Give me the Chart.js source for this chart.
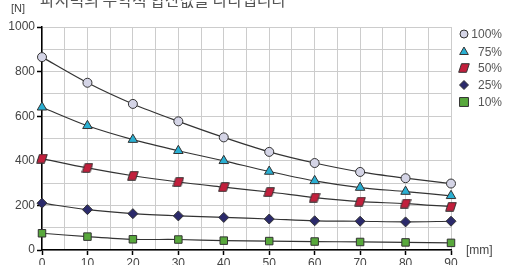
<!DOCTYPE html>
<html>
<head>
<meta charset="utf-8">
<script src="https://cdn.jsdelivr.net/npm/chart.js@4.4.1/dist/chart.umd.min.js"></script>
<style>
  html, body { margin: 0; padding: 0; background: #fff; }
  #wrap { position: relative; width: 506px; height: 265px; overflow: hidden; }
</style>
</head>
<body>
<div id="wrap"><canvas id="gripChart" width="506" height="265"></canvas></div>
<script>
// stroke positions [mm]
const strokeMm = [0, 10, 20, 30, 40, 50, 60, 70, 80, 90];
// grip force [N] per pressure level
const force100 = [865, 750, 655, 577, 505, 440, 390, 350, 322, 298];
const force75 = [640, 557, 495, 445, 400, 352, 310, 280, 262, 243];
const force50 = [410, 368, 333, 305, 282, 260, 235, 217, 208, 194];
const force25 = [210, 181, 163, 153, 146, 139, 131, 129, 126, 129];
const force10 = [75, 60, 48, 47, 42, 40, 38, 36, 34, 32];
const seriesLabels = ['100%', '75%', '50%', '25%', '10%'];
const titleText = '파지력의 수학적 합산값을 나타냅니다';

// parallelogram marker for the 50% series
function makeParallelogram(fill) {
    const c = document.createElement('canvas');
    c.width = 12;
    c.height = 10;
    const g = c.getContext('2d');
    g.beginPath();
    g.moveTo(3.5, 0.7);
    g.lineTo(11.3, 0.7);
    g.lineTo(8.5, 9.3);
    g.lineTo(0.7, 9.3);
    g.closePath();
    g.fillStyle = fill;
    g.fill();
    g.strokeStyle = '#333';
    g.lineWidth = 1;
    g.stroke();
    return c;
}

const styles = [
    { pointStyle: 'circle', color: '#d4d4e6', radius: 4.5, legendRadius: 4 },
    { pointStyle: 'triangle', color: '#2aafd2', radius: 5.5, legendRadius: 5 },
    { pointStyle: makeParallelogram('#c21f3c'), color: '#c21f3c', radius: 5, legendRadius: 5 },
    { pointStyle: 'rectRot', color: '#2b2a6b', radius: 5, legendRadius: 4.5 },
    { pointStyle: 'rect', color: '#58a83c', radius: 5.3, legendRadius: 6.3 }
];

const allSeries = [force100, force75, force50, force25, force10];

const datasets = allSeries.map((values, i) => ({
    label: seriesLabels[i],
    data: values.map((v, j) => ({ x: strokeMm[j], y: v })),
    borderColor: '#333',
    borderWidth: 1.2,
    tension: 0.3,
    pointStyle: styles[i].pointStyle,
    pointRadius: styles[i].radius,
    pointHoverRadius: styles[i].radius,
    pointBackgroundColor: styles[i].color,
    pointBorderColor: '#333',
    pointBorderWidth: 1,
    clip: false
}));

// extra texts and the legend on the right side
const extrasPlugin = {
    id: 'extras',
    afterDraw(chart) {
        const ctx = chart.ctx;
        ctx.save();
        ctx.fillStyle = '#555';
        ctx.font = '16px "Noto Sans CJK KR", "Noto Sans", sans-serif';
        ctx.textBaseline = 'alphabetic';
        ctx.textAlign = 'left';
        ctx.fillText(titleText, 40, 6);

        ctx.font = '11px "Liberation Sans", Arial, sans-serif';
        ctx.fillStyle = '#444';
        ctx.textBaseline = 'middle';
        ctx.fillText('[N]', 11, 9);
        ctx.font = '12px "Liberation Sans", Arial, sans-serif';
        ctx.fillText('[mm]', 466, 251);

        // legend
        const rows = [34, 52, 68, 85, 102];
        ctx.font = '12px "Liberation Sans", Arial, sans-serif';
        seriesLabels.forEach((label, i) => {
            const s = styles[i];
            ctx.fillStyle = s.color;
            ctx.strokeStyle = '#333';
            ctx.lineWidth = 1;
            Chart.helpers.drawPoint(ctx, {
                pointStyle: s.pointStyle,
                radius: s.legendRadius,
                rotation: 0,
                borderWidth: 1
            }, 464, rows[i]);
            ctx.fillStyle = '#555';
            ctx.textAlign = 'right';
            ctx.fillText(label, 502, rows[i] + 1);
        });
        ctx.restore();
    }
};

new Chart(document.getElementById('gripChart'), {
    type: 'line',
    data: { datasets: datasets },
    options: {
        responsive: false,
        animation: false,
        layout: { padding: { top: 27, right: 55, left: 0, bottom: 0 } },
        plugins: {
            legend: { display: false },
            tooltip: { enabled: false }
        },
        scales: {
            x: {
                type: 'linear',
                min: 0,
                max: 90,
                afterFit: scale => { scale.height = 15; },
                ticks: {
                    stepSize: 5,
                    padding: 1,
                    color: '#444',
                    font: { size: 12, family: '"Liberation Sans", Arial, sans-serif' },
                    callback: value => (value % 10 === 0 ? value : '')
                },
                grid: {
                    color: '#cccccc',
                    lineWidth: 1,
                    tickLength: 5,
                    tickColor: ctx => (ctx.tick && ctx.tick.value % 10 === 0 ? '#000' : 'rgba(0,0,0,0)'),
                    tickWidth: 1.5
                },
                border: { color: '#000', width: 1.5 }
            },
            y: {
                min: 0,
                max: 1000,
                afterFit: scale => { scale.width = 42; },
                ticks: {
                    stepSize: 100,
                    padding: 2,
                    color: '#444',
                    font: { size: 12, family: '"Liberation Sans", Arial, sans-serif' },
                    callback: value => (value % 200 === 0 ? value : '')
                },
                grid: {
                    color: '#cccccc',
                    lineWidth: 1,
                    tickLength: 5,
                    tickColor: ctx => (ctx.tick && ctx.tick.value % 200 === 0 ? '#000' : 'rgba(0,0,0,0)'),
                    tickWidth: 1.5
                },
                border: { color: '#000', width: 1.5 }
            }
        }
    },
    plugins: [extrasPlugin]
});
</script>
</body>
</html>
